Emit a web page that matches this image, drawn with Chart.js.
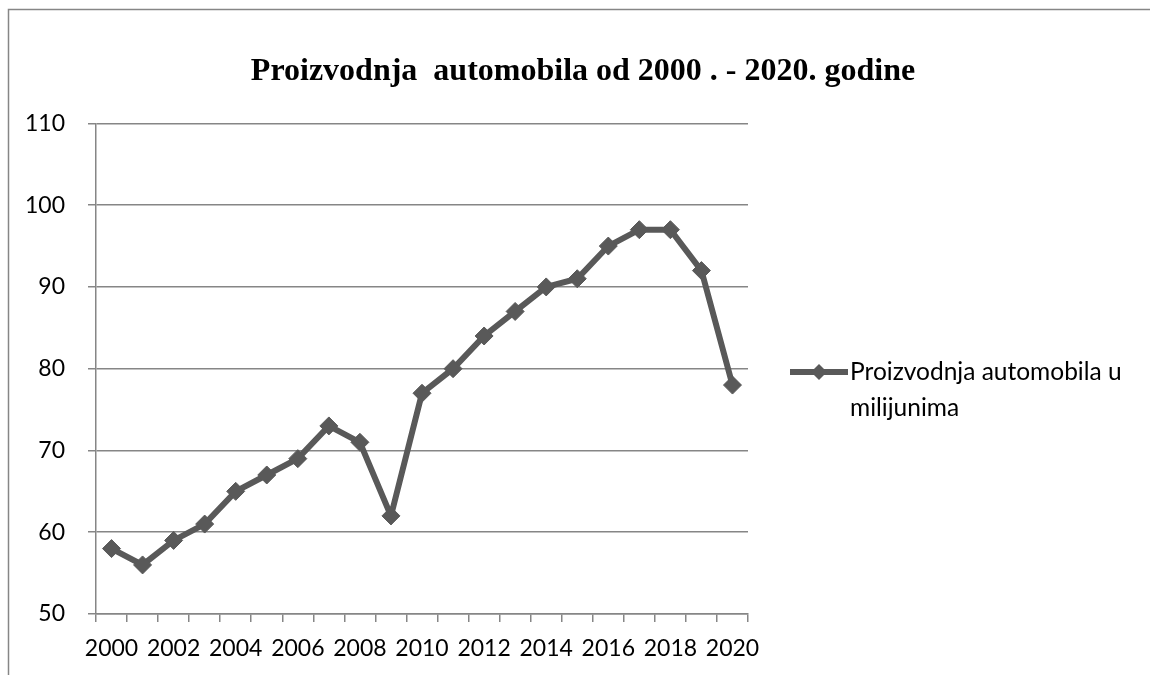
<!DOCTYPE html>
<html>
<head>
<meta charset="utf-8">
<script src="https://cdn.jsdelivr.net/npm/chart.js@4"></script>
<style>
html,body{margin:0;padding:0;background:#fff;}
#wrap{width:1150px;height:675px;position:relative;}
</style>
</head>
<body>
<div id="wrap"><canvas id="c" width="1150" height="675"></canvas></div>
<script>
const years = ["2000","2001","2002","2003","2004","2005","2006","2007","2008","2009","2010","2011","2012","2013","2014","2015","2016","2017","2018","2019","2020"];
const production = [58,56,59,61,65,67,69,73,71,62,77,80,84,87,90,91,95,97,97,92,78];
const seriesName = ["Proizvodnja automobila u", "milijunima"];
const chartTitle = "Proizvodnja  automobila od 2000 . - 2020. godine";
const yTicks = [50,60,70,80,90,100,110];

const GRAY = '#868686';
const LINE = '#595959';
const FONT = 'Lato, "Open Sans", sans-serif';

const framePlugin = {
  id: 'frame',
  beforeDraw(chart) {
    const ctx = chart.ctx;
    ctx.save();
    ctx.fillStyle = '#fff';
    ctx.fillRect(0,0,chart.width,chart.height);
    ctx.strokeStyle = GRAY;
    ctx.lineWidth = 1.5;
    ctx.beginPath();
    ctx.moveTo(8.5, 675);
    ctx.lineTo(8.5, 9.5);
    ctx.lineTo(1150, 9.5);
    ctx.stroke();
    ctx.restore();
  }
};

const legendPlugin = {
  id: 'customLegend',
  afterDraw(chart) {
    const ctx = chart.ctx;
    const ds = chart.data.datasets[0];
    ctx.save();
    const x0 = 790, x1 = 848, y = 372;
    const cx = (x0 + x1) / 2;
    ctx.strokeStyle = ds.borderColor;
    ctx.lineWidth = ds.borderWidth;
    ctx.beginPath();
    ctx.moveTo(x0, y); ctx.lineTo(x1, y);
    ctx.stroke();
    ctx.fillStyle = ds.pointBackgroundColor;
    const r = 8;
    ctx.beginPath();
    ctx.moveTo(cx, y - r); ctx.lineTo(cx + r, y); ctx.lineTo(cx, y + r); ctx.lineTo(cx - r, y); ctx.closePath();
    ctx.fill();
    ctx.fillStyle = '#000';
    ctx.font = '24.5px ' + FONT;
    ctx.textBaseline = 'middle';
    ctx.textAlign = 'left';
    seriesName.forEach((t, i) => ctx.fillText(t, 850, y + i * 36));
    ctx.restore();
  }
};

new Chart(document.getElementById('c'), {
  type: 'line',
  data: {
    labels: years,
    datasets: [{
      label: seriesName.join(' '),
      data: production,
      borderColor: LINE,
      backgroundColor: LINE,
      pointBackgroundColor: LINE,
      pointBorderColor: LINE,
      borderWidth: 6,
      pointStyle: 'rectRot',
      pointRadius: 9,
      pointBorderWidth: 1,
      tension: 0,
      fill: false
    }]
  },
  options: {
    responsive: false,
    animation: false,
    devicePixelRatio: 1,
    layout: { padding: { left: 16, right: 0, top: 0, bottom: 0 } },
    plugins: {
      legend: { display: false },
      tooltip: { enabled: false },
      title: {
        display: true,
        text: chartTitle,
        color: '#000',
        font: { family: '"Liberation Serif", "Times New Roman", serif', size: 32, weight: 'bold' },
        padding: { top: 53, bottom: 32 }
      }
    },
    scales: {
      x: {
        type: 'category',
        offset: true,
        border: { display: true, color: GRAY, width: 1.5 },
        grid: { offset: true, drawOnChartArea: false, drawTicks: true, tickLength: 8, color: GRAY, lineWidth: 1.5 },
        ticks: {
          autoSkip: false,
          maxRotation: 0,
          color: '#000',
          font: { family: FONT, size: 23 },
          padding: 13,
          callback: function(v, i) { return i % 2 === 0 ? years[i] : ''; }
        },
        afterFit(scale) { scale.height = 61; }
      },
      y: {
        min: 50, max: 110,
        border: { display: true, color: GRAY, width: 1.5 },
        grid: { color: GRAY, lineWidth: 1.5, tickLength: 8 },
        afterBuildTicks(scale) { scale.ticks = yTicks.map(v => ({ value: v })); },
        ticks: {
          color: '#000',
          font: { family: FONT, size: 23 },
          padding: 23
        },
        afterFit(scale) { scale.width = 80; }
      },
      legendSpace: {
        type: 'linear',
        position: 'right',
        display: true,
        border: { display: false },
        grid: { display: false, drawTicks: false },
        ticks: { display: false },
        afterFit(scale) { scale.width = 402; }
      }
    }
  },
  plugins: [framePlugin, legendPlugin]
});
</script>
</body>
</html>
